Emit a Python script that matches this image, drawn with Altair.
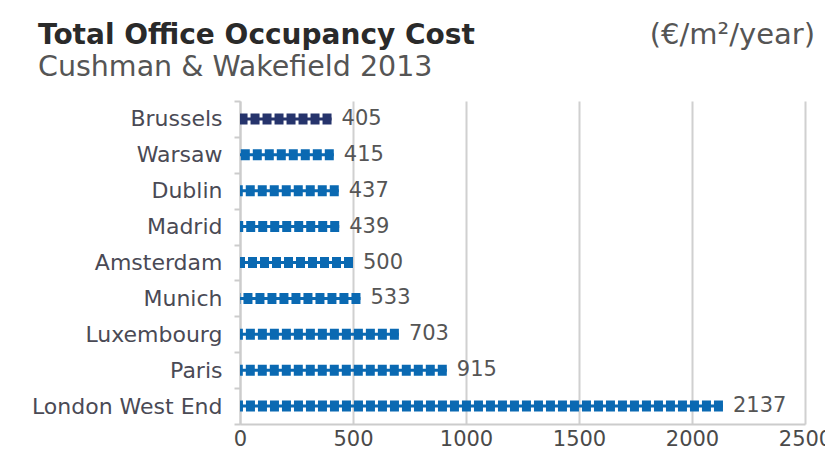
import altair as alt
import pandas as pd

cities = ["Brussels", "Warsaw", "Dublin", "Madrid", "Amsterdam", "Munich",
          "Luxembourg", "Paris", "London West End"]
costs = [405, 415, 437, 439, 500, 533, 703, 915, 2137]
groups = ["Brussels", "Other", "Other", "Other", "Other", "Other", "Other", "Other", "Other"]
x_ticks = [0, 500, 1000, 1500, 2000, 2500]

title_text = "Total Office Occupancy Cost"
subtitle_text = "Cushman & Wakefield 2013"
unit_text = "(€/m²/year)"

FONT = "DejaVu Sans"
df = pd.DataFrame({"city": cities, "cost": costs, "group": groups})

y_enc = alt.Y("city:N", sort=cities,
              scale=alt.Scale(paddingInner=0, paddingOuter=0),
              axis=alt.Axis(title=None, tickBand="extent", tickSize=6, tickWidth=2,
                            tickColor="#cccccc", domainColor="#cccccc", domainWidth=2,
                            labelFont=FONT, labelFontSize=22, labelColor="#4a4a55",
                            labelPadding=12, labelLimit=400, grid=False))
x_enc = alt.X("cost:Q",
              scale=alt.Scale(domain=[0, 2500], nice=False),
              axis=alt.Axis(title=None, values=x_ticks, format="d", ticks=False, grid=True,
                            gridColor="#d0d0d0", gridWidth=2,
                            domainColor="#cccccc", domainWidth=2,
                            labelFont=FONT, labelFontSize=21, labelColor="#4a4a4a",
                            labelPadding=4, labelFlush=False))
color_enc = alt.Color("group:N",
                      scale=alt.Scale(domain=["Brussels", "Other"], range=["#26346c", "#0a69b2"]),
                      legend=None)

base = alt.Chart(df)
connector = base.mark_rule(strokeWidth=3).encode(x=x_enc, x2=alt.datum(0), y=y_enc, color=color_enc)
dots = base.mark_rule(strokeWidth=11, strokeDash=[9, 3], strokeCap="butt").encode(
    x=x_enc, x2=alt.datum(0), y=y_enc, color=color_enc)
labels = base.mark_text(align="left", baseline="middle", dx=10, font=FONT, fontSize=21,
                        color="#555555").encode(x=x_enc, y=y_enc, text="cost:Q")

t1 = alt.Chart(pd.DataFrame({"t": [title_text]})).mark_text(
    align="left", baseline="alphabetic", font=FONT, fontSize=28, fontWeight="bold",
    color="#2a2a2a").encode(x=alt.value(-202), y=alt.value(-57), text="t:N")
t2 = alt.Chart(pd.DataFrame({"t": [subtitle_text]})).mark_text(
    align="left", baseline="alphabetic", font=FONT, fontSize=28.5,
    color="#555555").encode(x=alt.value(-202), y=alt.value(-25), text="t:N")
t3 = alt.Chart(pd.DataFrame({"t": [unit_text]})).mark_text(
    align="right", baseline="alphabetic", font=FONT, fontSize=29,
    color="#555555").encode(x=alt.value(575), y=alt.value(-57), text="t:N")

chart = alt.layer(connector, dots, labels, t1, t2, t3).properties(
    width=565, height=323,
    autosize=alt.AutoSizeParams(type="none"),
    padding={"left": 232, "top": 93, "right": 20, "bottom": 27},
    background="white",
).configure_view(stroke=None)

chart.save("out.html", embed_options={"renderer": "svg", "actions": False})
